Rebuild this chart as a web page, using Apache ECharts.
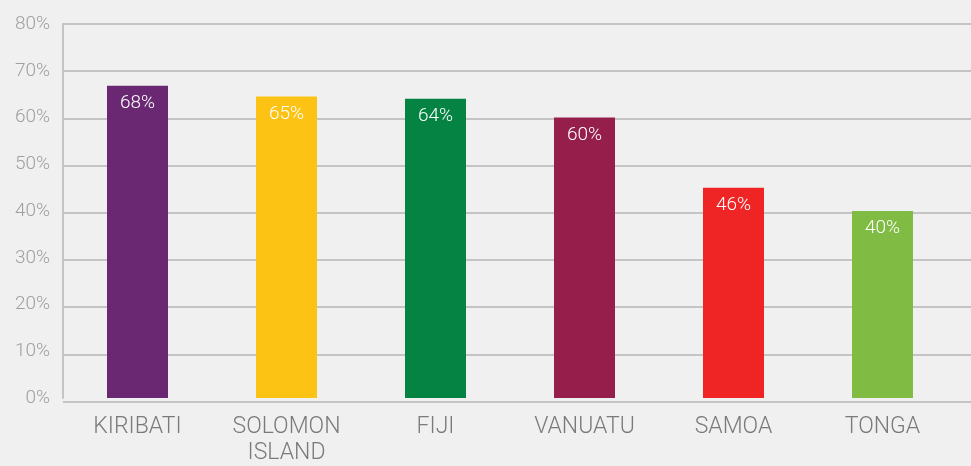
<!DOCTYPE html>
<html>
<head>
<meta charset="utf-8">
<script src="https://cdn.jsdelivr.net/npm/echarts@6/dist/echarts.min.js"></script>
<style>
  html, body { margin: 0; padding: 0; background: #f0f0f0; }
  #chart { width: 971px; height: 466px; }
</style>
</head>
<body>
<div id="chart"></div>
<script>
const categories = ['KIRIBATI', 'SOLOMON\nISLAND', 'FIJI', 'VANUATU', 'SAMOA', 'TONGA']
// bar heights as drawn, and the labels printed on them
const barValues = [66.8, 64.5, 64, 60, 45, 40]
const barLabels = ['68%', '65%', '64%', '60%', '46%', '40%']
const barColors = ['#6a2873', '#fdc314', '#048342', '#961e4a', '#ef2525', '#80bc43']
const yTicks = { min: 0, max: 80, interval: 10 }

const chart = echarts.init(document.getElementById('chart'))
const gridLine = '#c4c4c4'
const font = 'Roboto, "Liberation Sans", sans-serif'

chart.setOption({
  backgroundColor: '#f0f0f0',
  animation: false,
  grid: [
    { left: 63, right: 14, top: 24, bottom: 64.5 },
    // wider grid only for the horizontal lines running to the edge
    { left: 63, right: 0, top: 24, bottom: 64.5 }
  ],
  xAxis: [
    {
      type: 'category',
      gridIndex: 0,
      data: categories,
      axisLine: { show: false },
      axisTick: { show: false },
      axisLabel: {
        color: '#7a7a7a',
        fontFamily: font,
        fontWeight: 300,
        fontSize: 23,
        lineHeight: 26,
        margin: 16
      }
    },
    { type: 'value', gridIndex: 1, show: false }
  ],
  yAxis: [
    {
      type: 'value',
      gridIndex: 0,
      min: yTicks.min,
      max: yTicks.max,
      interval: yTicks.interval,
      axisLine: { show: true, lineStyle: { color: gridLine, width: 2 } },
      axisTick: { show: false },
      splitLine: { show: false },
      axisLabel: {
        color: '#a0a0a0',
        fontFamily: font,
        fontWeight: 300,
        fontSize: 19,
        margin: 13,
        formatter: '{value}%'
      }
    },
    {
      type: 'value',
      gridIndex: 1,
      min: yTicks.min,
      max: yTicks.max,
      interval: yTicks.interval,
      axisLine: { show: false },
      axisTick: { show: false },
      axisLabel: { show: false },
      splitLine: { show: true, lineStyle: { color: gridLine, width: 2 } }
    }
  ],
  series: [{
    type: 'bar',
    xAxisIndex: 0,
    yAxisIndex: 0,
    barWidth: 61,
    data: barValues.map((v, i) => ({ value: v, itemStyle: { color: barColors[i] } })),
    label: {
      show: true,
      position: 'insideTop',
      distance: 8,
      color: '#ffffff',
      fontFamily: font,
      fontWeight: 300,
      fontSize: 19,
      formatter: p => barLabels[p.dataIndex]
    },
    z: 3
  }]
})
</script>
</body>
</html>
